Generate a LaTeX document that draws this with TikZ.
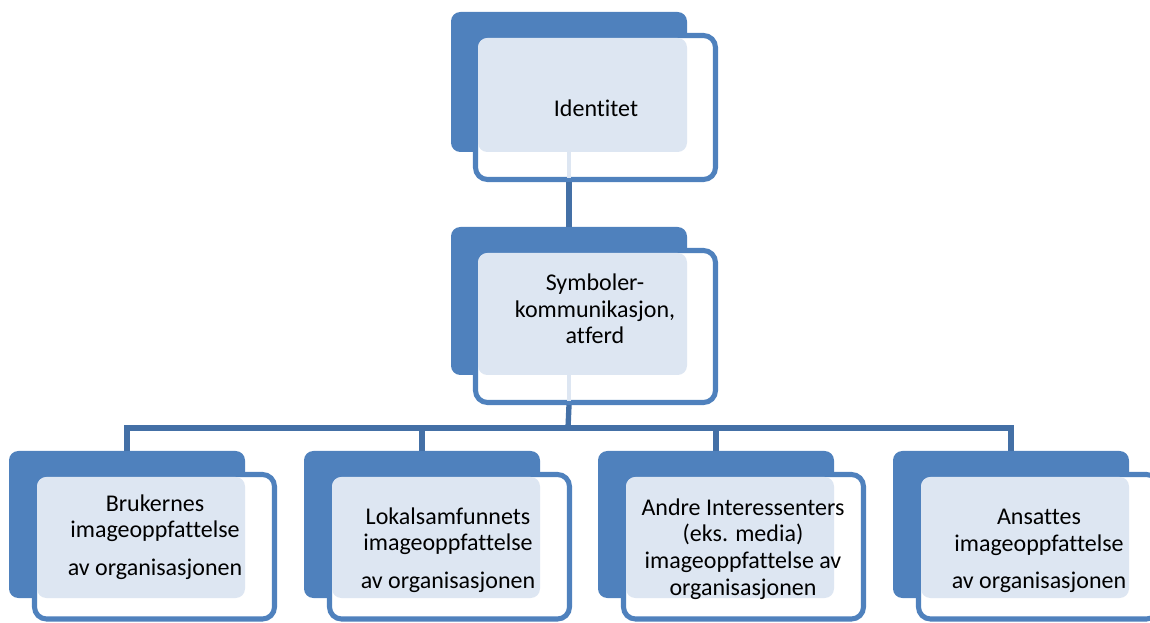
\documentclass[tikz,border=0pt]{standalone}
\usepackage{fontspec}
\setmainfont{Carlito}[Ligatures=NoCommon]
\usetikzlibrary{fit}
\definecolor{boxblue}{HTML}{4F81BD}
\definecolor{linkblue}{HTML}{4470A6}
\definecolor{dotblue}{HTML}{DDE6F2}

\begin{document}
\begin{tikzpicture}[
    x=0.75pt, y=-0.75pt,
    back/.style={fill=boxblue, rounded corners=7pt, inner sep=0pt},
    front/.style={draw=boxblue, fill=white, line width=3.8pt, rounded corners=9pt, inner sep=0pt},
    dots/.style={fill=dotblue, rounded corners=7pt, inner sep=0pt},
    txt/.style={font=\fontsize{18}{20}\selectfont, align=center, inner sep=0pt},
    conn/.style={draw=linkblue, line width=4pt}
]
\useasboundingbox (0,0) rectangle (1150,623);
\clip (0,0) rectangle (1150,623);

% -- top: identity --
\node[back, fit={(451,12) (687,152)}] (backTop) {};
\node[front, fit={(475.5,35.5) (715.5,179.5)}] (frontTop) {};
\node[dots, fit={(478,38) (687,152)}] (dotsTop) {};
\node[txt] (tTop) at (596,108) {Identitet};

% -- middle: symbols --
\node[back, fit={(451,227) (687,375)}] (backMid) {};
\node[front, fit={(475.5,250.5) (715.5,402.5)}] (frontMid) {};
\node[dots, fit={(478,253) (687,375)}] (dotsMid) {};
\node[txt] (tMid) at (595,309) {Symboler-\\kommunikasjon,\\atferd};

% -- bottom row: image per group --
\node[back, fit={(9,451) (245,598)}] (backB1) {};
\node[front, fit={(34.5,474.5) (274.5,619)}] (frontB1) {};
\node[dots, fit={(37,477) (245,598)}] (dotsB1) {};
\node[txt] (tB1) at (155,537) {Brukernes\\imageoppfattelse\\[8pt]av organisasjonen};

\node[back, fit={(304,451) (540,598)}] (backB2) {};
\node[front, fit={(329.5,474.5) (569.5,619)}] (frontB2) {};
\node[dots, fit={(332,477) (540,598)}] (dotsB2) {};
\node[txt] (tB2) at (448,550) {Lokalsamfunnets\\imageoppfattelse\\[8pt]av organisasjonen};

\node[back, fit={(598,451) (834,598)}] (backB3) {};
\node[front, fit={(623.5,474.5) (863.5,619)}] (frontB3) {};
\node[dots, fit={(626,477) (834,598)}] (dotsB3) {};
\node[txt] (tB3) at (743,549) {Andre Interessenters\\(eks. media)\\imageoppfattelse av\\organisasjonen};

\node[back, fit={(893,451) (1129,598)}] (backB4) {};
\node[front, fit={(918.5,474.5) (1158.5,619)}] (frontB4) {};
\node[dots, fit={(921,477) (1129,598)}] (dotsB4) {};
\node[txt] (tB4) at (1039,551) {Ansattes\\imageoppfattelse\\[8pt]av organisasjonen};

% -- connectors --
\draw[dotblue, line width=3.5pt] (backTop.center |- dotsTop.south) -- ([yshift=3pt]backTop.center |- frontTop.south);
\draw[conn] (backTop.center |- frontTop.south) -- (backMid.north);

\coordinate (bus) at (568,428);
\draw[dotblue, line width=3.5pt] (backMid.center |- dotsMid.south) -- ([yshift=3pt]backMid.center |- frontMid.south);
\draw[conn] (backMid.center |- frontMid.south) -- (bus);
\draw[conn] (backB1.north) |- (bus -| backB4.north) -- (backB4.north);
\draw[conn] (bus -| backB2.north) -- (backB2.north);
\draw[conn] (bus -| backB3.north) -- (backB3.north);

\end{tikzpicture}
\end{document}
